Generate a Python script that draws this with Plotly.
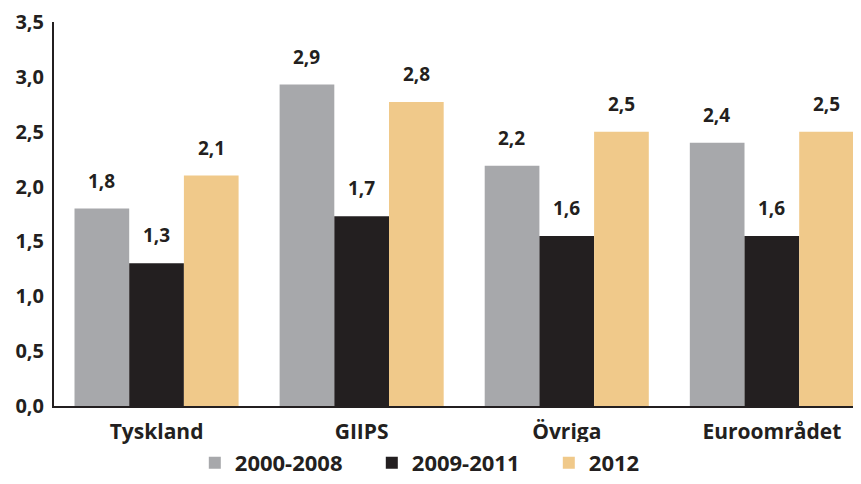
import plotly.graph_objects as go

categories = ["Tyskland", "GIIPS", "Övriga", "Euroområdet"]
series_names = ["2000-2008", "2009-2011", "2012"]
values_2000_2008 = [1.8, 2.93, 2.19, 2.4]
values_2009_2011 = [1.3, 1.73, 1.55, 1.55]
values_2012 = [2.1, 2.77, 2.5, 2.5]
labels_2000_2008 = ["1,8", "2,9", "2,2", "2,4"]
labels_2009_2011 = ["1,3", "1,7", "1,6", "1,6"]
labels_2012 = ["2,1", "2,8", "2,5", "2,5"]

colors = ["#a7a8ab", "#231f20", "#f0c98a"]
font_family = "Open Sans"

fig = go.Figure()

all_values = [values_2000_2008, values_2009_2011, values_2012]
all_labels = [labels_2000_2008, labels_2009_2011, labels_2012]

for name, vals, col in zip(series_names, all_values, colors):
    fig.add_trace(go.Bar(
        x=categories,
        y=vals,
        name=name,
        marker=dict(color=col, line=dict(width=0)),
    ))

# value labels above each bar
annotations = []
offsets = [-55, 0, 55]
for vals, labs, off in zip(all_values, all_labels, offsets):
    for cat, v, t in zip(categories, vals, labs):
        annotations.append(dict(
            x=cat, y=v, xref="x", yref="y",
            text=f"<b>{t}</b>", showarrow=False,
            xshift=off, yshift=28, yanchor="middle",
            font=dict(size=19, color="#231f20", family=font_family),
        ))

# page adds an 8px body margin, so the figure is a bit smaller
fig.update_layout(
    width=853, height=476,
    barmode="group",
    bargap=0.2,
    bargroupgap=0,
    separators=", ",
    plot_bgcolor="white",
    paper_bgcolor="white",
    margin=dict(l=46, r=3, t=14, b=78),
    font=dict(family=font_family, color="#231f20"),
    xaxis=dict(
        range=[-0.5, 3.42], automargin=False,
        showline=True, linecolor="#231f20", linewidth=2,
        ticks="", showgrid=False,
        tickfont=dict(size=21, family=font_family, weight="bold"),
        ticklabelstandoff=6,
    ),
    yaxis=dict(
        range=[0, 3.5], dtick=0.5, tickformat=".1f", automargin=False,
        showline=True, linecolor="#231f20", linewidth=2,
        ticks="", showgrid=False, zeroline=False,
        tickfont=dict(size=20, family=font_family, weight="bold"),
        ticklabelstandoff=4,
    ),
    legend=dict(
        orientation="h", xref="container", x=0.219, xanchor="left",
        yref="container", y=0.0, yanchor="bottom",
        font=dict(size=22, family=font_family, weight="bold"),
        itemwidth=30, entrywidth=132, traceorder="normal",
    ),
    showlegend=True,
    annotations=annotations,
)

fig.write_html("out.html")
